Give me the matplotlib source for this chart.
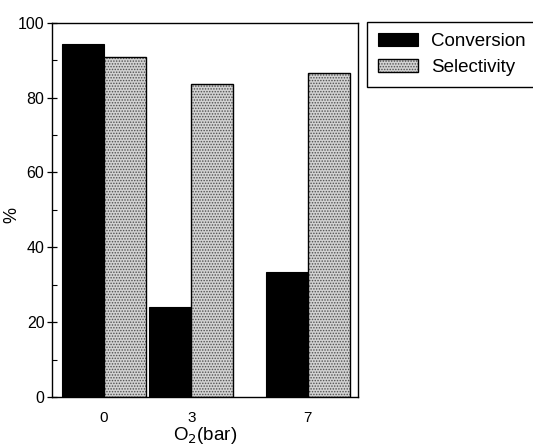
#!/usr/bin/env python3
"""Bar chart of conversion and selectivity against O2 pressure."""

import matplotlib

matplotlib.use("Agg")
import matplotlib.pyplot as plt
from matplotlib.ticker import MultipleLocator

plt.rcParams["font.family"] = ["Liberation Sans", "DejaVu Sans"]
plt.rcParams["hatch.linewidth"] = 0.7

# O2 pressure (bar) and the two measured quantities (%)
pressure = [0, 3, 7]
conversion = [94.3, 24.0, 33.3]
selectivity = [90.9, 83.6, 86.6]
tick_labels = ["0", "3", "7"]

BAR_W = 1.44

fig = plt.figure(figsize=(5.33, 4.46), dpi=100)
ax = fig.add_axes([0.0976, 0.110, 0.574, 0.839])

conv_bars = ax.bar(
    pressure, conversion, width=-BAR_W, align="edge",
    color="black", edgecolor="black", linewidth=0.8, zorder=2,
)
sel_fill = ax.bar(
    pressure, selectivity, width=BAR_W, align="edge",
    color="#d2d2d2", edgecolor="#505050", hatch="......", linewidth=0, zorder=2,
)
sel_edge = ax.bar(
    pressure, selectivity, width=BAR_W, align="edge",
    fill=False, edgecolor="black", linewidth=1.0, zorder=3,
)

ax.set_xlim(-1.78, 8.72)
ax.set_ylim(0, 100)
ax.set_xticks(pressure)
ax.set_xticklabels(tick_labels)
ax.tick_params(axis="x", length=0, pad=10, labelsize=11)
ax.yaxis.set_major_locator(MultipleLocator(20))
ax.yaxis.set_minor_locator(MultipleLocator(10))
ax.tick_params(axis="y", which="major", direction="inout", length=7, width=0.9, labelsize=11.5, pad=2)
ax.tick_params(axis="y", which="minor", direction="in", length=3.5, width=0.8)
for spine in ax.spines.values():
    spine.set_linewidth(1.0)

ax.set_xlabel("O$_2$(bar)", fontsize=13.5, labelpad=0)
ax.set_ylabel("%", fontsize=13)
ax.yaxis.set_label_coords(-0.105, 0.487)

fig.legend(
    [conv_bars, (sel_fill, sel_edge)], ["Conversion", "Selectivity"],
    loc="upper left", bbox_to_anchor=(367 / 533, 1 - 22 / 446),
    fontsize=13.5, frameon=True, fancybox=False, edgecolor="black",
    framealpha=1, handlelength=2.1, handleheight=0.7, handletextpad=0.7,
    borderpad=0.6, labelspacing=0.45, borderaxespad=0,
).get_frame().set_linewidth(1.0)

fig.savefig("out.png", dpi=100)
